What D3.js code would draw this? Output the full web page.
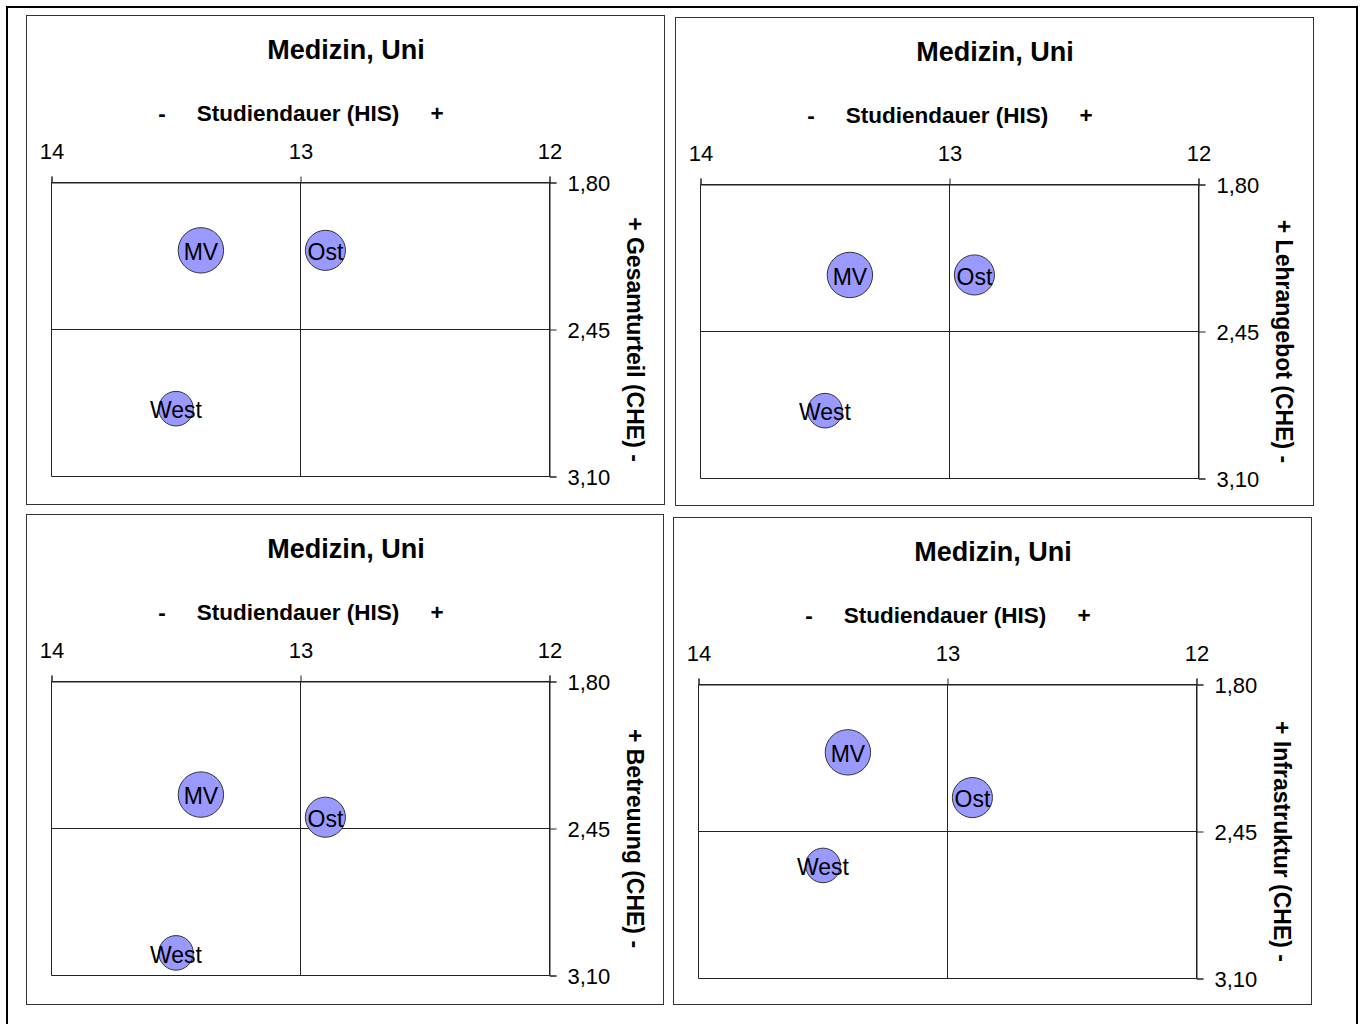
<!DOCTYPE html>
<html>
<head>
<meta charset="utf-8">
<script src="https://cdn.jsdelivr.net/npm/d3@7"></script>
<style>
  html, body { margin: 0; padding: 0; background: #fff; }
  svg { display: block; }
  text { font-family: "Liberation Sans", Arial, sans-serif; fill: #000; }
</style>
</head>
<body>
<svg id="chart" width="1366" height="1024"></svg>
<script>
// Regions compared in every panel
const regions = ["MV", "Ost", "West"];
// Average study duration in semesters (HIS), shared by all panels
const studiendauer = [13.4, 12.9, 13.5];
// Relative bubble size per region
const bubbleSize = [100, 78, 58];

// CHE ratings (lower is better) per panel
const gesamturteil = [2.10, 2.10, 2.80];
const lehrangebot = [2.20, 2.20, 2.80];
const betreuung = [2.30, 2.40, 3.00];
const infrastruktur = [2.10, 2.30, 2.60];

const panelTitles = ["Medizin, Uni", "Medizin, Uni", "Medizin, Uni", "Medizin, Uni"];
const yTitles = ["+ Gesamturteil (CHE) -", "+ Lehrangebot (CHE) -", "+ Betreuung (CHE) -", "+ Infrastruktur (CHE) -"];
const xTitle = "Studiendauer (HIS)";
const xTicks = [14, 13, 12];
const yTicks = [1.80, 2.45, 3.10];

const ratings = [gesamturteil, lehrangebot, betreuung, infrastruktur];

// Panel frames on the page
const panels = [
  { x: 26,  y: 15,  w: 638, h: 489 },
  { x: 675, y: 17,  w: 638, h: 488 },
  { x: 26,  y: 514, w: 637, h: 490 },
  { x: 673, y: 517, w: 638, h: 487 }
];

const svg = d3.select("#chart");
const LINE = "#222";
const FONT = "Liberation Sans, Arial, sans-serif";

// Outer frame
svg.append("rect")
  .attr("x", 7).attr("y", 7).attr("width", 1350).attr("height", 1030)
  .attr("fill", "none").attr("stroke", "#000").attr("stroke-width", 2);

const plotW = 498, plotH = 294;
const rScale = d3.scaleSqrt().domain([0, 100]).range([0, 22.7]);
const fmt = d => d3.format(".2f")(d).replace(".", ",");

panels.forEach((p, i) => {
  const g = svg.append("g").attr("transform", `translate(${p.x},${p.y})`);

  g.append("rect")
    .attr("x", 0.5).attr("y", 0.5).attr("width", p.w).attr("height", p.h)
    .attr("fill", "#fff").attr("stroke", "#333").attr("stroke-width", 1);

  g.append("text")
    .attr("x", 320).attr("y", 44)
    .attr("text-anchor", "middle")
    .attr("font-size", 27).attr("font-weight", "bold")
    .text(panelTitles[i]);

  // X axis title with direction markers
  const xt = g.append("g").attr("font-size", 22.5).attr("font-weight", "bold");
  xt.append("text").attr("x", 136).attr("y", 106).attr("text-anchor", "middle").text("-");
  xt.append("text").attr("x", 272).attr("y", 106).attr("text-anchor", "middle").text(xTitle);
  xt.append("text").attr("x", 411).attr("y", 106).attr("text-anchor", "middle").text("+");

  const plot = g.append("g").attr("transform", "translate(25.5,167.5)");

  const x = d3.scaleLinear().domain([14, 12]).range([0, plotW]);
  const y = d3.scaleLinear().domain([1.80, 3.10]).range([0, plotH]);

  // Crosshair gridlines at the ticks
  plot.append("g")
    .selectAll("line")
    .data(xTicks)
    .join("line")
    .attr("x1", d => x(d)).attr("x2", d => x(d))
    .attr("y1", 0).attr("y2", plotH)
    .attr("stroke", LINE);
  plot.append("g")
    .selectAll("line")
    .data(yTicks)
    .join("line")
    .attr("x1", 0).attr("x2", plotW)
    .attr("y1", d => y(d)).attr("y2", d => y(d))
    .attr("stroke", LINE);

  // Top axis (study duration)
  const ax = plot.append("g")
    .call(d3.axisTop(x).tickValues(xTicks).tickSize(6).tickPadding(18).tickFormat(d3.format("d")));
  ax.select(".domain").attr("stroke", LINE);
  ax.selectAll(".tick line").attr("stroke", LINE);
  ax.selectAll(".tick text").attr("font-size", 22).attr("font-family", FONT);

  // Right axis (CHE rating)
  const ay = plot.append("g")
    .attr("transform", `translate(${plotW},0)`)
    .call(d3.axisRight(y).tickValues(yTicks).tickSize(7).tickPadding(11).tickFormat(fmt));
  ay.select(".domain").attr("stroke", LINE);
  ay.selectAll(".tick line").attr("stroke", LINE);
  ay.selectAll(".tick text").attr("font-size", 22).attr("font-family", FONT).attr("dy", "0.38em");

  // Right axis title, reading top to bottom
  plot.append("text")
    .attr("transform", `translate(${plotW + 77},${plotH / 2 + 10}) rotate(90)`)
    .attr("text-anchor", "middle")
    .attr("font-size", 23).attr("font-weight", "bold")
    .text(yTitles[i]);

  const pts = regions.map((name, k) => ({
    name, dur: studiendauer[k], val: ratings[i][k], size: bubbleSize[k]
  }));

  plot.append("g")
    .selectAll("circle")
    .data(pts)
    .join("circle")
    .attr("cx", d => x(d.dur))
    .attr("cy", d => y(d.val))
    .attr("r", d => rScale(d.size))
    .attr("fill", "#9999ff")
    .attr("stroke", "#333")
    .attr("stroke-width", 1);

  plot.append("g")
    .selectAll("text")
    .data(pts)
    .join("text")
    .attr("x", d => x(d.dur))
    .attr("y", d => y(d.val))
    .attr("dy", "0.42em")
    .attr("text-anchor", "middle")
    .attr("font-size", 23)
    .text(d => d.name);
});
</script>
</body>
</html>
